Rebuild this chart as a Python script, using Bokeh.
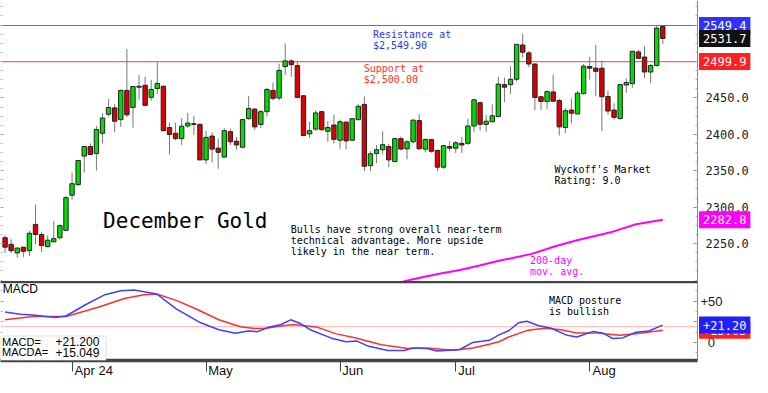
import pandas as pd
from bokeh.plotting import figure
from bokeh.layouts import column
from bokeh.models import (Range1d, FixedTicker, LinearAxis, NumeralTickFormatter,
                          Label, BoxAnnotation, ColumnDataSource)
from bokeh.embed import file_html
from bokeh.resources import INLINE

# ---------------- data ----------------
opens = [2258.1, 2249.0, 2237.2, 2245.1, 2240.3, 2276.4, 2262.5, 2245.9, 2252.5, 2258.1,
         2268.2, 2316.5, 2330.9, 2370.1, 2383.2, 2373.6, 2401.5, 2427.6, 2436.3, 2420.2,
         2460.3, 2436.8, 2466.0, 2467.3, 2450.7, 2462.9, 2466.0, 2409.3, 2401.5, 2394.1,
         2411.5, 2414.6, 2413.7, 2364.9, 2397.6, 2381.0, 2368.8, 2403.7, 2390.6, 2382.3,
         2421.5, 2434.6, 2413.7, 2431.1, 2460.3, 2449.9, 2493.0, 2500.8, 2494.3, 2452.9,
         2400.6, 2407.2, 2431.1, 2404.1, 2412.8, 2391.9, 2416.7, 2391.9, 2420.2, 2441.1,
         2357.0, 2373.6, 2378.8, 2383.2, 2362.7, 2394.1, 2380.1, 2389.7, 2418.9, 2379.7,
         2392.8, 2378.0, 2354.9, 2383.2, 2381.0, 2387.6, 2387.6, 2411.5, 2443.4, 2413.7,
         2417.3, 2424.6, 2468.2, 2468.2, 2475.6, 2522.6, 2511.8, 2496.5, 2451.6, 2445.1,
         2458.2, 2446.4, 2409.4, 2433.3, 2428.1, 2455.9, 2493.1, 2490.8, 2490.8, 2452.0,
         2433.3, 2421.6, 2467.7, 2469.5, 2513.1, 2506.1, 2485.6, 2494.4, 2548.0]
highs = [2261.2, 2256.0, 2245.1, 2245.5, 2267.7, 2303.5, 2265.6, 2261.2, 2280.8, 2276.4,
         2315.7, 2347.5, 2364.9, 2384.1, 2387.5, 2411.5, 2428.9, 2448.5, 2442.0, 2461.6,
         2517.4, 2466.8, 2481.2, 2479.0, 2474.7, 2499.1, 2466.8, 2415.9, 2415.9, 2422.4,
         2429.4, 2425.5, 2414.6, 2405.0, 2402.8, 2394.1, 2408.5, 2407.2, 2396.3, 2421.1,
         2452.9, 2436.3, 2433.3, 2463.8, 2471.2, 2496.5, 2524.8, 2503.0, 2500.8, 2454.2,
         2417.2, 2433.3, 2432.0, 2418.0, 2426.8, 2420.2, 2418.0, 2422.4, 2442.0, 2452.0,
         2376.7, 2385.4, 2404.1, 2386.7, 2395.4, 2397.1, 2391.9, 2421.1, 2427.6, 2394.1,
         2394.1, 2378.8, 2385.4, 2390.6, 2390.6, 2396.3, 2421.6, 2449.0, 2445.1, 2426.8,
         2441.2, 2479.1, 2477.8, 2493.5, 2523.5, 2537.9, 2514.4, 2497.4, 2452.9, 2460.8,
         2481.7, 2449.0, 2435.9, 2449.0, 2459.5, 2496.5, 2506.5, 2522.6, 2501.3, 2459.5,
         2442.5, 2468.6, 2476.9, 2514.8, 2516.1, 2520.9, 2496.5, 2548.8, 2549.4]
lows = [2237.2, 2237.2, 2230.7, 2231.6, 2232.9, 2249.4, 2238.5, 2244.6, 2251.6, 2255.5,
        2267.3, 2310.4, 2329.6, 2347.5, 2371.4, 2350.1, 2387.5, 2424.6, 2402.8, 2410.2,
        2423.7, 2409.3, 2447.7, 2438.5, 2446.4, 2455.1, 2404.1, 2372.3, 2391.9, 2385.4,
        2408.5, 2399.3, 2364.5, 2359.2, 2361.4, 2352.7, 2367.9, 2385.4, 2378.8, 2381.9,
        2420.2, 2405.8, 2408.5, 2424.6, 2446.4, 2446.4, 2481.2, 2479.0, 2449.4, 2397.6,
        2395.0, 2405.0, 2405.0, 2389.7, 2387.5, 2380.1, 2379.7, 2391.0, 2418.9, 2349.6,
        2349.6, 2360.5, 2372.3, 2354.9, 2361.4, 2378.8, 2365.8, 2387.5, 2378.8, 2375.3,
        2374.5, 2349.6, 2352.7, 2376.7, 2374.5, 2374.5, 2385.0, 2403.3, 2405.0, 2403.3,
        2416.3, 2424.0, 2444.2, 2455.6, 2472.5, 2505.2, 2492.2, 2433.3, 2433.3, 2434.6,
        2444.2, 2398.4, 2402.0, 2415.0, 2426.8, 2454.6, 2475.2, 2452.9, 2404.6, 2426.8,
        2420.3, 2420.3, 2456.9, 2463.8, 2503.0, 2476.9, 2470.3, 2493.1, 2523.5]
closes = [2245.1, 2240.3, 2243.8, 2239.4, 2264.2, 2262.5, 2247.3, 2254.7, 2256.8, 2274.7,
          2313.0, 2332.2, 2364.0, 2383.2, 2372.3, 2406.7, 2422.4, 2436.8, 2418.0, 2460.3,
          2426.8, 2465.5, 2464.7, 2439.8, 2461.6, 2469.9, 2405.0, 2399.7, 2394.1, 2411.1,
          2415.4, 2413.7, 2364.9, 2395.8, 2379.7, 2375.3, 2405.0, 2389.7, 2385.4, 2420.2,
          2435.5, 2410.2, 2431.1, 2461.6, 2449.4, 2487.8, 2500.8, 2495.6, 2450.7, 2398.4,
          2405.0, 2429.4, 2406.3, 2409.3, 2393.2, 2417.2, 2391.0, 2421.5, 2438.5, 2356.2,
          2373.2, 2378.8, 2385.8, 2364.9, 2394.1, 2379.7, 2389.7, 2419.4, 2380.1, 2392.8,
          2376.7, 2354.9, 2384.5, 2381.0, 2388.4, 2385.4, 2411.5, 2447.3, 2413.7, 2418.0,
          2425.5, 2469.0, 2464.7, 2475.6, 2523.5, 2512.7, 2496.5, 2450.7, 2445.1, 2458.6,
          2445.5, 2410.2, 2432.4, 2429.0, 2456.5, 2493.5, 2490.8, 2486.5, 2451.6, 2432.0,
          2423.3, 2468.2, 2471.2, 2514.0, 2504.3, 2485.6, 2494.4, 2545.8, 2531.7]

# 200-day moving average (index, value) samples
ma_x = [65, 66.1, 68.3, 71.5, 74.7, 77.9, 81.1, 86.5, 90.2, 93.9, 99.8, 103.6, 108]
ma_vals = [2197.0, 2199.3, 2203.6, 2208.9, 2213.7, 2219.9, 2226.4, 2235.9, 2246.0,
           2254.6, 2266.4, 2276.5, 2282.8]

# MACD (blue) and MACDA / signal (red) samples
macd_x = [0, 2.5, 4.5, 8.3, 10, 13.2, 16.4, 19, 21.2, 24.9, 28.1, 31.9, 35.1, 37.8, 39.9,
          41.5, 43.1, 45.3, 46.9, 48.5, 50.1, 53.8, 56, 57.8, 59.7, 62.9, 65.6, 66.9, 69.3,
          70.9, 74.7, 76.8, 79.5, 81.1, 82.7, 84.3, 85.7, 87.5, 89.7, 92.3, 93.9, 96.6,
          98.2, 99.8, 101.4, 103.6, 105.7, 108]
macd_vals = [37.0, 34.4, 33.3, 30.3, 32.2, 45.8, 58.0, 62.8, 63.6, 58.8, 40.9, 24.7, 15.6,
             11.4, 14.0, 13.3, 18.2, 21.9, 27.6, 23.1, 15.6, 4.9, 1.1, 1.9, -4.5, -9.4,
             -9.4, -6.5, -7.2, -10.2, -8.3, 0.3, 2.8, 9.4, 14.4, 23.9, 25.8, 20.8, 17.4,
             8.8, 6.8, 13.6, 11.4, 4.9, 5.7, 12.5, 14.0, 21.2]
sig_x = [0, 4.6, 10, 15.3, 19.6, 22.8, 24.9, 28.1, 31.3, 35.1, 38.8, 41, 42.6, 45.3, 47.4,
         51.1, 54.4, 57.6, 61.8, 66.1, 69.3, 73.6, 76.8, 79.5, 81.1, 82.7, 85.9, 88.6,
         91.3, 93.9, 97.2, 100.9, 103.6, 108]
sig_vals = [27.6, 31.5, 31.5, 42.8, 53.4, 58.0, 58.8, 51.1, 40.9, 27.6, 19.0, 17.0, 17.0,
            20.1, 21.9, 19.0, 10.6, 5.7, -2.6, -7.2, -6.5, -9.1, -6.5, -1.9, 1.1, 6.8,
            15.1, 17.4, 15.6, 11.7, 11.7, 8.8, 10.6, 15.049]

resistance = 2549.4
support = 2499.9
last_close = 2531.7
ma_last = 2282.8
macd_last = 21.2
macda_last = 15.049
macd_ref = 19.3

price_ticks = [2250, 2300, 2350, 2400, 2450, 2500, 2550]
macd_ticks = [0, 25, 50]

holidays = ["2024-03-29", "2024-05-27", "2024-06-19", "2024-07-04"]
dates = [d for d in pd.bdate_range("2024-03-14", "2024-08-19")
         if d.strftime("%Y-%m-%d") not in holidays]

# month start ticks
month_idx, month_lbl = [], []
for i, d in enumerate(dates):
    if i > 0 and d.month != dates[i - 1].month:
        month_idx.append(i)
        month_lbl.append(d.strftime("%b") + (" 24" if not month_lbl else ""))

idx = list(range(len(opens)))
inc = [c >= o for o, c in zip(opens, closes)]
src = ColumnDataSource(dict(
    x=idx, open=opens, high=highs, low=lows, close=closes,
    top=[max(o, c) for o, c in zip(opens, closes)],
    bottom=[min(o, c) for o, c in zip(opens, closes)],
    color=["#00dd00" if u else "#dd0000" for u in inc],
))

MONO = "DejaVu Sans Mono"
SANS = "Liberation Sans"
FW = 752                    # whole width: data area + price-scale strip
X0, XAX = -0.75, 113.7      # data area spans X0..XAX, scale strip to the right
XEND = X0 + (XAX - X0) * FW / 697.0
XR = Range1d(X0, XEND)

def minor(lo, hi, step):
    out, v = [], lo
    while v <= hi + 1e-9:
        out.append(round(v, 3))
        v += step
    return out

def right_axis(fig, ticks, minors, standoff, font, size):
    ax = LinearAxis(fixed_location=XAX, ticker=FixedTicker(ticks=ticks, minor_ticks=minors))
    ax.major_label_text_font = font
    ax.major_label_text_font_size = size
    ax.major_label_text_color = "#222222"
    ax.major_label_standoff = standoff
    ax.major_tick_in = 4
    ax.major_tick_out = 0
    ax.minor_tick_in = 2
    ax.minor_tick_out = 0
    ax.axis_line_color = "#888888"
    ax.major_tick_line_color = "#888888"
    ax.minor_tick_line_color = "#aaaaaa"
    fig.add_layout(ax, "right")
    return ax

def left_ticks(fig, ticks, minors):
    ax = LinearAxis(fixed_location=X0, ticker=FixedTicker(ticks=ticks, minor_ticks=minors))
    ax.major_label_text_color = None
    ax.axis_line_color = None
    ax.major_tick_in = 3
    ax.major_tick_out = 0
    ax.minor_tick_in = 2
    ax.minor_tick_out = 0
    ax.major_tick_line_color = "#999999"
    ax.minor_tick_line_color = "#aaaaaa"
    fig.add_layout(ax, "left")

# ---------------- main price panel ----------------
p = figure(frame_width=FW, frame_height=281, x_range=XR, y_range=Range1d(2198, 2583.7),
           output_backend="svg", toolbar_location=None, x_axis_location=None,
           y_axis_location=None, min_border_left=0, min_border_right=0,
           min_border_top=0, min_border_bottom=0)
p.outline_line_color = None
p.grid.visible = False
ya = right_axis(p, price_ticks, minor(2200, 2575, 12.5), 8, MONO, "12px")
ya.formatter = NumeralTickFormatter(format="0.0")
left_ticks(p, price_ticks, minor(2200, 2575, 12.5))

p.segment(x0=[X0], y0=[resistance], x1=[XAX], y1=[resistance],
          line_color="#6262ff", line_width=1.2)
p.segment(x0=[X0], y0=[support], x1=[XAX], y1=[support],
          line_color="#ff6262", line_width=1.2)

p.segment(x0="x", y0="low", x1="x", y1="high", source=src, line_color="#777777", line_width=1)
p.vbar(x="x", width=0.72, top="top", bottom="bottom", source=src, fill_color="color",
       line_color="#222222", line_width=1)
p.line(ma_x, ma_vals, line_color="#ff00ff", line_width=2)

def note(fig, x, y, text, color="#000000", size="10px", font=MONO, baseline="top"):
    fig.add_layout(Label(x=x, y=y, text=text, text_color=color, text_font=font,
                         text_font_size=size, text_baseline=baseline,
                         text_line_height=1.0, level="overlay"))

note(p, 60.4, 2544.4, "Resistance at\n$2,549.90", "#3030ff")
note(p, 58.9, 2497.4, "Support at\n$2,500.00", "#ff3030")
note(p, 90.2, 2359.2, "Wyckoff's Market\nRating: 9.0")
note(p, 16.1, 2281.0, "December Gold", size="21px", baseline="middle")
note(p, 46.9, 2276.5, "Bulls have strong overall near-term\ntechnical advantage. More upside\nlikely in the near term.")
note(p, 86.2, 2233.7, "200-day\nmov. avg.", "#ff00ff")

def vbox(fig, y, text, bg):
    fig.add_layout(Label(x=XAX + 0.25, y=y, text=text, text_color="#ffffff", text_font=MONO,
                         text_font_size="12px", text_baseline="middle", text_align="left",
                         background_fill_color=bg, padding=4, level="overlay"))

vbox(p, resistance, "%.1f" % resistance, "#3030ff")
vbox(p, last_close, "%.1f" % last_close, "#111111")
vbox(p, support, "%.1f" % support, "#ff2020")
vbox(p, ma_last, "%.1f" % ma_last, "#ff00ff")

# ---------------- MACD panel ----------------
MY0, MY1 = -21.6, 73.9
m = figure(frame_width=FW, frame_height=79, x_range=XR, y_range=Range1d(MY0, MY1),
           output_backend="svg", toolbar_location=None, y_axis_location=None,
           min_border_left=0, min_border_right=0, min_border_top=0, min_border_bottom=0)
m.outline_line_color = None
m.grid.visible = False
my = right_axis(m, macd_ticks, minor(-12.5, 62.5, 12.5), 3, SANS, "13px")
my.major_label_overrides = {0: "\u00a0\u00a00", 25: "+25", 50: "+50"}
left_ticks(m, macd_ticks, minor(-12.5, 62.5, 12.5))

# month labels sit just right of their tick line: pad each centred label on the left
EM = {"A": .667, "p": .556, "r": .333, " ": .278, "2": .556, "4": .556, "M": .833,
      "a": .556, "y": .5, "J": .5, "u": .556, "n": .556, "l": .222, "g": .556}
def padded(s):
    w = sum(EM.get(c, .556) for c in s)
    n = int(round((w + 0.45) / 0.278))
    return "\u00a0" * n + s

mx = m.xaxis[0]
mx.ticker = FixedTicker(ticks=month_idx)
mx.major_label_overrides = {i: padded(s) for i, s in zip(month_idx, month_lbl)}
mx.major_label_text_font = SANS
mx.major_label_text_font_size = "13px"
mx.major_label_text_color = "#111111"
mx.major_tick_in = 0
mx.major_tick_out = 11
mx.major_label_standoff = -9
mx.minor_tick_line_color = None
mx.axis_line_color = None
mx.major_tick_line_color = "#444444"

m.segment(x0=[X0], y0=[macd_ref], x1=[XAX], y1=[macd_ref], line_color="#ffb4b4", line_width=1)
m.line(sig_x, sig_vals, line_color="#ff3030", line_width=1.5)
m.line(macd_x, macd_vals, line_color="#4040ff", line_width=1.5)

m.add_layout(BoxAnnotation(left=X0, right=16.6, bottom=MY0, top=8,
                           fill_color="#ffffff", fill_alpha=1.0, line_color="#999999",
                           line_width=1, level="overlay"))
# panel separators (top and bottom edges of the MACD pane)
m.segment(x0=[X0, X0], y0=[MY1, MY0], x1=[XAX, XAX], y1=[MY1, MY0],
          line_color="#444444", line_width=3.5, level="overlay")
note(m, -0.4, 65.3, "MACD", font=SANS, size="12px", baseline="middle")
note(m, 89.3, 57.2, "MACD posture\nis bullish")
note(m, -0.5, 0.8, "MACD=", font=SANS, size="11px", baseline="middle")
note(m, 8.3, 0.8, "+%.3f" % macd_last, font=SANS, size="12px", baseline="middle")
note(m, -0.5, -11.8, "MACDA=", font=SANS, size="11px", baseline="middle")
note(m, 8.3, -11.8, "+%.3f" % macda_last, font=SANS, size="12px", baseline="middle")

vbox(m, macda_last, "+%.2f" % macda_last, "#ff2020")
vbox(m, macd_last, "+%.2f" % macd_last, "#2020ff")

layout = column(p, m, spacing=0)
open("out.html", "w").write(file_html(layout, INLINE))
